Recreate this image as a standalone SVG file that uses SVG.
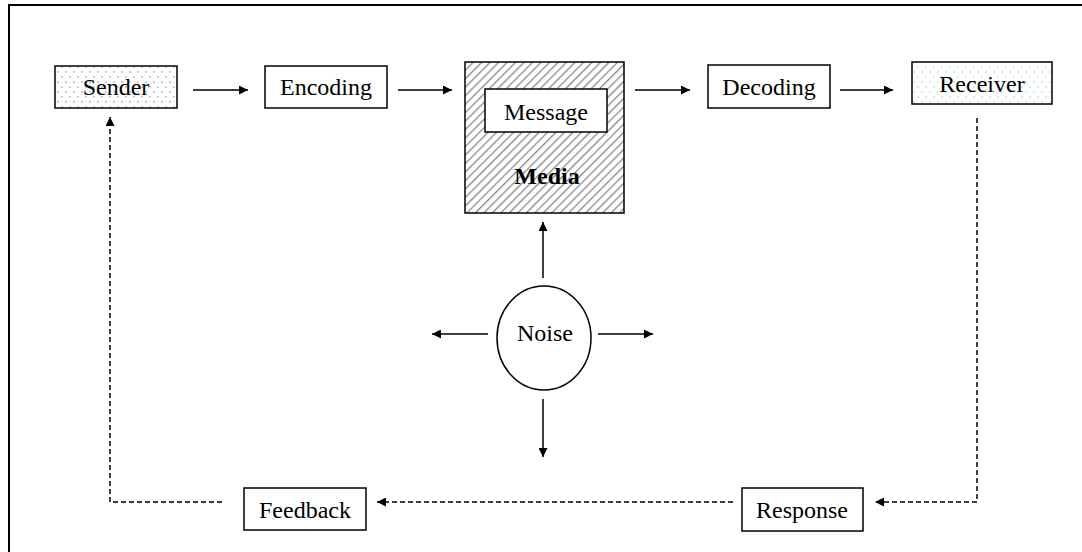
<svg xmlns="http://www.w3.org/2000/svg" width="1082" height="552" viewBox="0 0 1082 552">
  <style>
    .box { fill: #fff; stroke: #000; stroke-width: 1.5; }
    .lbl { font-family: "Liberation Serif", "Times New Roman", serif; font-size: 24px; fill: #000; text-anchor: middle; }
    .bold { font-weight: bold; }
    .solid { fill: none; stroke: #000; stroke-width: 1.5; }
    .dash { fill: none; stroke: #000; stroke-width: 1.5; stroke-dasharray: 5 3; }
  </style>
  <defs>
    <marker id="arrow" viewBox="0 0 10 10" refX="10" refY="5" markerWidth="11" markerHeight="9" markerUnits="userSpaceOnUse" orient="auto">
      <path d="M0,0 L10,5 L0,10 Z" fill="#000"/>
    </marker>
    <pattern id="dots" width="8" height="10" patternUnits="userSpaceOnUse">
      <rect width="8" height="10" fill="#fff"/>
      <circle cx="2" cy="2" r="0.7" fill="#777"/>
      <circle cx="6" cy="7" r="0.7" fill="#777"/>
    </pattern>
    <pattern id="dotsLight" width="8" height="10" patternUnits="userSpaceOnUse">
      <rect width="8" height="10" fill="#fff"/>
      <circle cx="2" cy="2" r="0.7" fill="#8cc"/>
      <circle cx="6" cy="7" r="0.7" fill="#8cc"/>
    </pattern>
    <pattern id="hatch" width="6" height="6" patternUnits="userSpaceOnUse" patternTransform="rotate(45)">
      <rect width="6" height="6" fill="#fff"/>
      <line x1="0" y1="0" x2="0" y2="6" stroke="#888" stroke-width="2.6"/>
    </pattern>
  </defs>

  <!-- frame -->
  <line x1="8" y1="5" x2="1082" y2="5" stroke="#000" stroke-width="2"/>
  <line x1="9" y1="4" x2="9" y2="552" stroke="#000" stroke-width="2"/>

  <g id="connectors">
    <line class="solid" x1="193" y1="90" x2="248" y2="90" marker-end="url(#arrow)"/>
    <line class="solid" x1="398" y1="90" x2="452" y2="90" marker-end="url(#arrow)"/>
    <line class="solid" x1="635" y1="90" x2="690" y2="90" marker-end="url(#arrow)"/>
    <line class="solid" x1="840" y1="90" x2="893" y2="90" marker-end="url(#arrow)"/>
    <!-- noise outward arrows -->
    <line class="solid" x1="543" y1="278" x2="543" y2="222" marker-end="url(#arrow)"/>
    <line class="solid" x1="488" y1="334" x2="432" y2="334" marker-end="url(#arrow)"/>
    <line class="solid" x1="598" y1="334" x2="653" y2="334" marker-end="url(#arrow)"/>
    <line class="solid" x1="543" y1="399" x2="543" y2="457" marker-end="url(#arrow)"/>
    <!-- feedback loop -->
    <polyline class="dash" points="977,118 977,502 875,502" marker-end="url(#arrow)"/>
    <line class="dash" x1="733" y1="502" x2="377" y2="502" marker-end="url(#arrow)"/>
    <polyline class="dash" points="222,502 110,502 110,117" marker-end="url(#arrow)"/>
  </g>

  <g id="sender">
    <rect class="box" x="55" y="66" width="122" height="42" style="fill:url(#dots)"/>
    <text class="lbl" x="116" y="95">Sender</text>
  </g>
  <g id="encoding">
    <rect class="box" x="265" y="66" width="122" height="42"/>
    <text class="lbl" x="326" y="95">Encoding</text>
  </g>
  <g id="media">
    <rect class="box" x="465" y="62" width="159" height="151" style="fill:url(#hatch)"/>
    <text class="lbl bold" x="547" y="184">Media</text>
  </g>
  <g id="message">
    <rect class="box" x="485" y="89" width="122" height="43"/>
    <text class="lbl" x="546" y="120">Message</text>
  </g>
  <g id="decoding">
    <rect class="box" x="708" y="65" width="122" height="43"/>
    <text class="lbl" x="769" y="95">Decoding</text>
  </g>
  <g id="receiver">
    <rect class="box" x="912" y="62" width="140" height="42" style="fill:url(#dotsLight)"/>
    <text class="lbl" x="982" y="92">Receiver</text>
  </g>
  <g id="noise">
    <ellipse class="box" cx="544" cy="338" rx="47" ry="52"/>
    <text class="lbl" x="545" y="341">Noise</text>
  </g>
  <g id="response">
    <rect class="box" x="742" y="488" width="121" height="43"/>
    <text class="lbl" x="802" y="518">Response</text>
  </g>
  <g id="feedback">
    <rect class="box" x="244" y="488" width="122" height="42"/>
    <text class="lbl" x="305" y="518">Feedback</text>
  </g>
</svg>
